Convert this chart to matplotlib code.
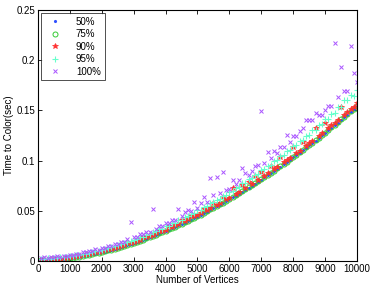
import matplotlib
matplotlib.use("Agg")
import matplotlib.pyplot as plt

plt.rcParams['font.family'] = ['Liberation Sans', 'DejaVu Sans']

vertices = [100 * k for k in range(1, 101)]

p50 = [0.0006,0.0007,0.0008,0.0010,0.0012,0.0014,0.0017,0.0020,0.0024,0.0028,
       0.0032,0.0037,0.0042,0.0047,0.0053,0.0059,0.0065,0.0072,0.0079,0.0086,
       0.0094,0.0102,0.0110,0.0119,0.0128,0.0138,0.0147,0.0157,0.0167,0.0178,
       0.0189,0.0199,0.0211,0.0222,0.0234,0.0246,0.0258,0.0271,0.0284,0.0297,
       0.0311,0.0325,0.0339,0.0354,0.0368,0.0382,0.0397,0.0412,0.0428,0.0443,
       0.0459,0.0475,0.0492,0.0509,0.0526,0.0543,0.0560,0.0578,0.0596,0.0615,
       0.0633,0.0652,0.0671,0.0690,0.0710,0.0730,0.0750,0.0770,0.0791,0.0811,
       0.0832,0.0853,0.0875,0.0897,0.0919,0.0941,0.0963,0.0986,0.1009,0.1032,
       0.1055,0.1079,0.1103,0.1127,0.1151,0.1175,0.1200,0.1225,0.1250,0.1275,
       0.1301,0.1327,0.1353,0.1379,0.1406,0.1432,0.1459,0.1486,0.1513,0.1541]

p75 = [0.0007,0.0008,0.0010,0.0011,0.0013,0.0016,0.0019,0.0022,0.0026,0.0030,
       0.0034,0.0039,0.0044,0.0050,0.0056,0.0062,0.0068,0.0075,0.0082,0.0089,
       0.0097,0.0105,0.0114,0.0123,0.0132,0.0141,0.0151,0.0161,0.0171,0.0181,
       0.0192,0.0203,0.0214,0.0226,0.0238,0.0250,0.0262,0.0275,0.0288,0.0301,
       0.0315,0.0329,0.0343,0.0357,0.0372,0.0386,0.0401,0.0416,0.0432,0.0447,
       0.0463,0.0479,0.0496,0.0513,0.0530,0.0547,0.0564,0.0582,0.0600,0.0619,
       0.0637,0.0656,0.0675,0.0695,0.0714,0.0734,0.0754,0.0774,0.0795,0.0815,
       0.0836,0.0857,0.0879,0.0901,0.0923,0.0945,0.0967,0.0990,0.1013,0.1036,
       0.1059,0.1083,0.1107,0.1131,0.1155,0.1179,0.1204,0.1229,0.1254,0.1279,
       0.1305,0.1331,0.1357,0.1383,0.1410,0.1436,0.1463,0.1490,0.1517,0.1545]

p90 = [0.0011,0.0012,0.0014,0.0015,0.0018,0.0021,0.0024,0.0027,0.0031,0.0035,
       0.0041,0.0046,0.0052,0.0058,0.0066,0.0069,0.0076,0.0085,0.0089,0.0097,
       0.0105,0.0118,0.0122,0.0131,0.0143,0.0150,0.0161,0.0178,0.0181,0.0192,
       0.0203,0.0214,0.0235,0.0237,0.0250,0.0262,0.0274,0.0298,0.0300,0.0313,
       0.0345,0.0341,0.0355,0.0369,0.0405,0.0398,0.0414,0.0452,0.0444,0.0460,
       0.0476,0.0520,0.0508,0.0526,0.0575,0.0560,0.0577,0.0635,0.0613,0.0632,
       0.0724,0.0670,0.0688,0.0760,0.0728,0.0790,0.0768,0.0850,0.0810,0.0890,
       0.0850,0.0872,0.0950,0.0916,0.0938,0.1040,0.0982,0.1005,0.1029,0.1140,
       0.1075,0.1100,0.1190,0.1148,0.1172,0.1196,0.1320,0.1246,0.1272,0.1370,
       0.1323,0.1350,0.1376,0.1402,0.1537,0.1456,0.1483,0.1511,0.1538,0.1570]

p95 = [0.0022,0.0020,0.0025,0.0024,0.0029,0.0030,0.0036,0.0038,0.0041,0.0048,
       0.0050,0.0059,0.0061,0.0071,0.0074,0.0084,0.0087,0.0099,0.0101,0.0114,
       0.0118,0.0131,0.0136,0.0151,0.0155,0.0170,0.0176,0.0193,0.0197,0.0213,
       0.0220,0.0238,0.0243,0.0263,0.0269,0.0290,0.0295,0.0317,0.0322,0.0345,
       0.0352,0.0376,0.0381,0.0406,0.0412,0.0437,0.0444,0.0470,0.0477,0.0503,
       0.0511,0.0538,0.0546,0.0575,0.0583,0.0612,0.0620,0.0650,0.0658,0.0690,
       0.0698,0.0731,0.0739,0.0773,0.0781,0.0816,0.0824,0.0860,0.0868,0.0905,
       0.0912,0.0950,0.0958,0.0998,0.1005,0.1046,0.1053,0.1095,0.1103,0.1145,
       0.1152,0.1197,0.1204,0.1249,0.1256,0.1302,0.1309,0.1356,0.1362,0.1411,
       0.1418,0.1467,0.1474,0.1537,0.1530,0.1600,0.1602,0.1650,0.1648,0.1700]

p100 = [0.0030,0.0035,0.0031,0.0039,0.0036,0.0045,0.0043,0.0052,0.0050,0.0062,
        0.0060,0.0074,0.0072,0.0087,0.0085,0.0101,0.0099,0.0116,0.0114,0.0133,
        0.0131,0.0152,0.0150,0.0172,0.0170,0.0193,0.0192,0.0216,0.0390,0.0238,
        0.0240,0.0266,0.0264,0.0292,0.0291,0.0515,0.0320,0.0350,0.0348,0.0380,
        0.0379,0.0412,0.0410,0.0515,0.0445,0.0490,0.0508,0.0496,0.0585,0.0530,
        0.0575,0.0640,0.0588,0.0824,0.0657,0.0840,0.0680,0.0883,0.0707,0.0720,
        0.0807,0.0770,0.0807,0.0923,0.0873,0.0857,0.0900,0.0946,0.0956,0.1494,
        0.0980,0.1090,0.1030,0.1100,0.1080,0.1132,0.1132,0.1255,0.1190,0.1240,
        0.1240,0.1290,0.1320,0.1404,0.1404,0.1404,0.1477,0.1454,0.1454,0.1500,
        0.1540,0.1540,0.2168,0.1636,0.1930,0.1696,0.1696,0.2145,0.1870,0.1786]

labels = ['50%', '75%', '90%', '95%', '100%']

fig = plt.figure(figsize=(3.74, 2.88), dpi=100)
ax = fig.add_axes([0.1016, 0.0938, 0.8529, 0.8715])

ax.plot(vertices, p50, linestyle='none', marker='.', markersize=2.5, color='#3050ff', label=labels[0])
ax.plot(vertices, p75, linestyle='none', marker='o', markersize=3.6, markerfacecolor='none',
        markeredgecolor='#33cc33', markeredgewidth=0.7, label=labels[1])
ax.plot(vertices, p90, linestyle='none', marker='*', markersize=4.2, color='#ff3030',
        markeredgewidth=0.5, label=labels[2])
ax.plot(vertices, p95, linestyle='none', marker='+', markersize=4.5, color='#66ffcc',
        markeredgewidth=0.8, label=labels[3])
ax.plot(vertices, p100, linestyle='none', marker='x', markersize=3.2, color='#aa55ff',
        markeredgewidth=0.7, label=labels[4])

ax.set_xlim(0, 10000)
ax.set_ylim(0, 0.25)
ax.set_xticks(range(0, 10001, 1000))
ax.set_yticks([0, 0.05, 0.1, 0.15, 0.2, 0.25])
ax.set_yticklabels(['0', '0.05', '0.1', '0.15', '0.2', '0.25'])
ax.tick_params(direction='in', top=True, right=True, labelsize=7, length=3, width=0.6, pad=2)
for s in ax.spines.values():
    s.set_linewidth(0.8)
ax.set_xlabel('Number of Vertices', fontsize=7, labelpad=1)
ax.set_ylabel('Time to Color(sec)', fontsize=7, labelpad=2)

leg = ax.legend(loc='upper left', fontsize=7, frameon=True, fancybox=False,
                edgecolor='black', borderpad=0.4, labelspacing=0.25, handletextpad=1.2,
                handlelength=2.0, borderaxespad=0.3, numpoints=1)
leg.get_frame().set_linewidth(0.6)

fig.savefig('out.png', dpi=100)
